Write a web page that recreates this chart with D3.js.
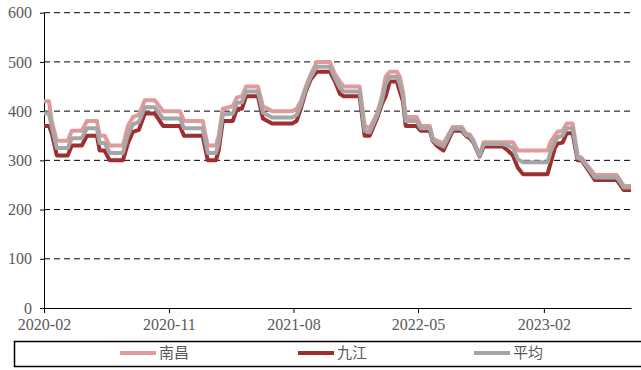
<!DOCTYPE html>
<html>
<head>
<meta charset="utf-8">
<script src="https://cdn.jsdelivr.net/npm/d3@7"></script>
<style>
  body { margin: 0; background: #fff; }
  svg { display: block; }
</style>
</head>
<body>
<div id="chart"></div>
<script>
// breakpoints of the weekly price series (shared dates)
const dates = [
  '2020-02-01','2020-02-12','2020-02-18','2020-02-29','2020-03-24','2020-04-02','2020-04-24','2020-05-05',
  '2020-05-27','2020-06-02','2020-06-13','2020-06-24','2020-07-23','2020-08-03','2020-08-14','2020-08-27',
  '2020-09-09','2020-10-01','2020-10-19','2020-11-25','2020-12-04','2021-01-14','2021-01-25','2021-02-12',
  '2021-02-18','2021-02-27','2021-03-21','2021-03-30','2021-04-10','2021-04-19','2021-05-15','2021-05-26',
  '2021-06-15','2021-07-29','2021-08-08','2021-08-17','2021-08-28','2021-09-08','2021-09-21','2021-10-20',
  '2021-10-31','2021-11-11','2021-11-19','2021-12-24','2022-01-04','2022-01-15','2022-01-31','2022-02-11',
  '2022-02-19','2022-02-28','2022-03-16','2022-03-22','2022-03-29','2022-04-04','2022-04-28','2022-05-07',
  '2022-05-27','2022-06-02','2022-06-11','2022-06-26','2022-07-16','2022-08-05','2022-08-14','2022-08-23',
  '2022-08-31','2022-09-13','2022-09-22','2022-11-03','2022-11-14','2022-11-25','2022-12-06','2022-12-17',
  '2023-02-09','2023-02-16','2023-02-25','2023-03-03','2023-03-14','2023-03-23','2023-04-05','2023-04-16',
  '2023-04-25','2023-05-24','2023-07-11','2023-07-26','2023-08-11'
]

const nanchang = [
  420,420,380,340,340,360,360,380,
  380,350,350,330,330,370,388,393,
  422,422,400,400,380,380,330,330,
  350,405,410,428,430,450,450,410,
  400,400,405,420,450,475,500,500,
  475,460,450,450,370,365,395,430,
  470,480,480,470,440,388,388,370,
  370,345,340,335,368,368,355,352,
  340,310,337,337,337,337,320,320,
  320,338,350,358,360,375,375,310,
  305,270,270,248,248
]

const jiujiang = [
  370,370,355,310,310,330,330,350,
  350,320,320,300,300,335,358,362,
  395,395,370,370,350,350,300,300,
  320,380,380,405,405,430,430,385,
  375,375,380,405,440,465,480,480,
  460,435,430,430,350,350,385,415,
  430,460,460,440,420,370,370,360,
  360,340,330,320,360,360,350,345,
  335,308,328,328,320,310,285,272,
  272,295,325,334,336,355,355,300,
  300,260,260,240,240
]

const average = [
  395,395,368,325,325,345,345,365,
  365,335,335,315,315,352,373,378,
  408,408,385,385,365,365,315,315,
  335,393,395,417,418,440,440,397,
  387,387,392,412,445,470,490,490,
  467,447,440,440,360,357,390,422,
  455,470,470,455,430,380,380,365,
  365,342,335,328,364,364,352,349,
  337,309,333,333,330,325,302,296,
  296,318,337,347,350,365,365,305,
  302,265,265,245,245
]

const yTicks = [0, 100, 200, 300, 400, 500, 600]
const xTickLabels = ['2020-02', '2020-11', '2021-08', '2022-05', '2023-02']
const seriesNames = ['南昌', '九江', '平均']
const seriesColors = ['#E09A9A', '#9E2F2E', '#A6A6A6']

const width = 641, height = 370
const margin = {top: 12.7, right: 10, bottom: 62, left: 44}
const parse = d3.timeParse('%Y-%m-%d')

const svg = d3.select('#chart').append('svg')
    .attr('width', width)
    .attr('height', height)

const x = d3.scaleTime()
    .domain([parse('2020-02-01'), parse('2023-08-11')])
    .range([margin.left, 631])

const y = d3.scaleLinear()
    .domain([0, 600])
    .range([308, margin.top])

// dashed grid
svg.append('g')
    .selectAll('line')
    .data(yTicks.filter(d => d > 0))
    .join('line')
    .attr('x1', margin.left)
    .attr('x2', 631)
    .attr('y1', d => y(d))
    .attr('y2', d => y(d))
    .attr('stroke', '#000')
    .attr('stroke-width', 1)
    .attr('stroke-dasharray', '6,4')

const axisFont = g => g.selectAll('text')
    .attr('font-family', '"Liberation Serif", "Times New Roman", serif')
    .attr('font-size', 16)
    .attr('fill', '#595959')

svg.append('g')
    .attr('transform', `translate(${margin.left},0)`)
    .call(d3.axisLeft(y).tickValues(yTicks).tickSize(4).tickSizeOuter(0).tickPadding(8))
    .call(axisFont)
    .call(g => g.selectAll('line,path').attr('stroke', '#000'))

svg.append('g')
    .attr('transform', `translate(0,${y(0)})`)
    .call(d3.axisBottom(x)
        .tickValues(xTickLabels.map(d => parse(d + '-01')))
        .tickFormat(d3.timeFormat('%Y-%m'))
        .tickSize(5).tickSizeOuter(0).tickPadding(6))
    .call(axisFont)
    .call(g => g.selectAll('line,path').attr('stroke', '#000'))

// series lines
const series = [nanchang, jiujiang, average]
const line = d3.line()
    .x((d, i) => x(parse(dates[i])))
    .y(d => y(d))

series.forEach((values, k) => {
    svg.append('path')
        .datum(values)
        .attr('fill', 'none')
        .attr('stroke', seriesColors[k])
        .attr('stroke-width', 4)
        .attr('stroke-linejoin', 'round')
        .attr('d', line)
})

// legend
const legend = svg.append('g')
legend.append('rect')
    .attr('x', 14.5)
    .attr('y', 341.5)
    .attr('width', 640)
    .attr('height', 25)
    .attr('fill', 'none')
    .attr('stroke', '#000')
    .attr('stroke-width', 1.5)

const legendX = [120, 298, 474]
seriesNames.forEach((name, k) => {
    legend.append('line')
        .attr('x1', legendX[k])
        .attr('x2', legendX[k] + 36)
        .attr('y1', 353)
        .attr('y2', 353)
        .attr('stroke', seriesColors[k])
        .attr('stroke-width', 4)
    legend.append('text')
        .attr('x', legendX[k] + 39)
        .attr('y', 353)
        .attr('dy', '0.35em')
        .attr('font-family', '"Noto Sans CJK SC", sans-serif')
        .attr('font-size', 15)
        .attr('fill', '#595959')
        .text(name)
})
</script>
</body>
</html>
